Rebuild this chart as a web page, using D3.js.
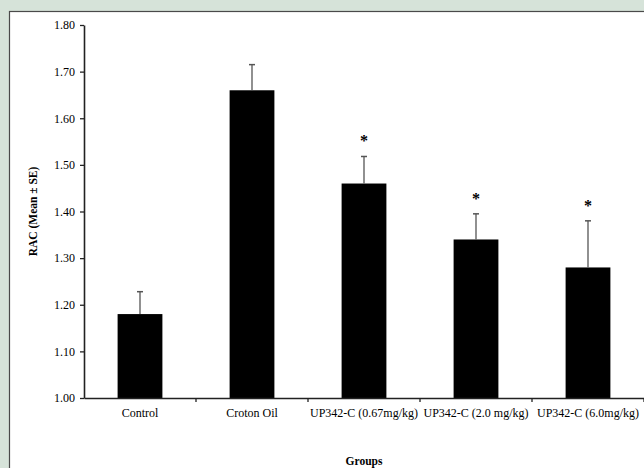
<!DOCTYPE html>
<html>
<head>
<meta charset="utf-8">
<script src="https://cdn.jsdelivr.net/npm/d3@7"></script>
<style>
  html, body { margin: 0; padding: 0; background: #d6e3d9; }
  svg { display: block; }
</style>
</head>
<body>
<svg id="chart" width="644" height="468"></svg>
<script>
const groups = ["Control", "Croton Oil", "UP342-C (0.67mg/kg)", "UP342-C (2.0 mg/kg)", "UP342-C (6.0mg/kg)"];
const means = [1.18, 1.66, 1.46, 1.34, 1.28];
const errors = [0.048, 0.055, 0.058, 0.055, 0.10];
const significant = [false, false, true, true, true];
const yTicks = [1.00, 1.10, 1.20, 1.30, 1.40, 1.50, 1.60, 1.70, 1.80];

const svg = d3.select("#chart");
const font = "'Liberation Serif', 'Times New Roman', serif";

// white panel
svg.append("rect")
  .attr("x", 9.5).attr("y", 11.5)
  .attr("width", 640).attr("height", 470)
  .attr("fill", "#fff")
  .attr("stroke", "#4a4a4a").attr("stroke-width", 1.2);

const x0 = 84, yTop = 25, yBot = 398;

const x = d3.scaleBand().domain(groups).range([x0, x0 + 112 * groups.length]).paddingInner(0.6).paddingOuter(0.3);
const y = d3.scaleLinear().domain([1.0, 1.8]).range([yBot, yTop]);

// bars
svg.selectAll("rect.bar").data(groups).enter().append("rect")
  .attr("class", "bar")
  .attr("x", d => x(d))
  .attr("width", x.bandwidth())
  .attr("y", (d, i) => y(means[i]))
  .attr("height", (d, i) => y(1.0) - y(means[i]))
  .attr("fill", "#000");

// error bars (upper only)
const eb = svg.selectAll("g.err").data(groups).enter().append("g").attr("class", "err");
eb.append("line")
  .attr("x1", d => x(d) + x.bandwidth() / 2).attr("x2", d => x(d) + x.bandwidth() / 2)
  .attr("y1", (d, i) => y(means[i])).attr("y2", (d, i) => y(means[i] + errors[i]))
  .attr("stroke", "#555").attr("stroke-width", 1.3);
eb.append("line")
  .attr("x1", d => x(d) + x.bandwidth() / 2 - 3).attr("x2", d => x(d) + x.bandwidth() / 2 + 3)
  .attr("y1", (d, i) => y(means[i] + errors[i])).attr("y2", (d, i) => y(means[i] + errors[i]))
  .attr("stroke", "#555").attr("stroke-width", 1.5);

// significance markers
svg.selectAll("text.sig").data(groups.filter((d, i) => significant[i])).enter().append("text")
  .attr("class", "sig")
  .attr("x", d => x(d) + x.bandwidth() / 2)
  .attr("y", d => { const i = groups.indexOf(d); return y(means[i] + errors[i]) - 10; })
  .attr("text-anchor", "middle")
  .attr("font-family", font).attr("font-size", 16).attr("font-weight", "bold")
  .text("*");

// y axis
const yAxis = d3.axisLeft(y).tickValues(yTicks).tickFormat(d3.format(".2f")).tickSize(4).tickSizeOuter(0);
const gy = svg.append("g").attr("transform", `translate(${x0},0)`).call(yAxis);
gy.select(".domain").attr("stroke", "#222").attr("stroke-width", 1.6);
gy.selectAll(".tick line").attr("stroke", "#222").attr("stroke-width", 1.3);
gy.selectAll(".tick text").attr("font-family", font).attr("font-size", 12).attr("fill", "#000").attr("x", -9);

// x axis
const xAxis = d3.axisBottom(x).tickSize(0).tickSizeOuter(0);
const gx = svg.append("g").attr("transform", `translate(0,${yBot})`).call(xAxis);
gx.select(".domain").attr("stroke", "#222").attr("stroke-width", 1.6);
gx.selectAll(".tick text").attr("font-family", font).attr("font-size", 12).attr("fill", "#000").attr("dy", "1.3em");

// category boundary ticks
const bounds = groups.map((d, i) => x0 + 112 * (i + 1));
gx.selectAll("line.bound").data(bounds).enter().append("line")
  .attr("class", "bound")
  .attr("x1", d => d).attr("x2", d => d)
  .attr("y1", 0).attr("y2", 4)
  .attr("stroke", "#222").attr("stroke-width", 1.3);

// axis titles
svg.append("text")
  .attr("x", 364).attr("y", 465)
  .attr("text-anchor", "middle")
  .attr("font-family", font).attr("font-size", 11.5).attr("font-weight", "bold")
  .text("Groups");

svg.append("text")
  .attr("transform", `translate(37,${(yTop + yBot) / 2}) rotate(-90)`)
  .attr("text-anchor", "middle")
  .attr("font-family", font).attr("font-size", 11.5).attr("font-weight", "bold")
  .text("RAC (Mean ± SE)");
</script>
</body>
</html>
